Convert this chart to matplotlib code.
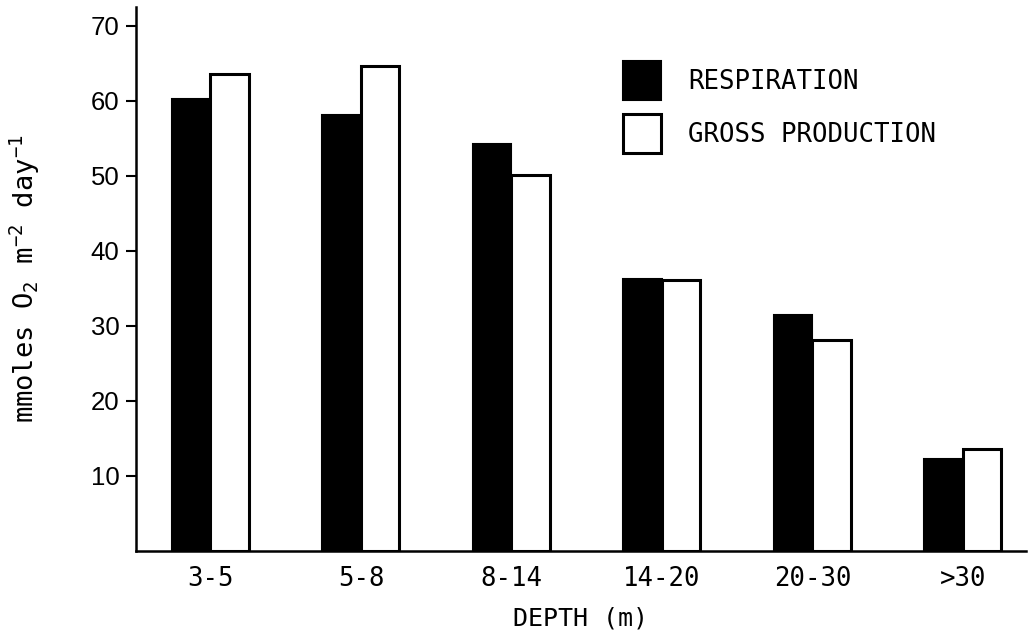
import numpy as np
import matplotlib
matplotlib.use("Agg")
import matplotlib.pyplot as plt
from matplotlib.patches import Patch

# depth classes and oxygen rates (mmoles O2 m-2 day-1)
depths = ['3-5', '5-8', '8-14', '14-20', '20-30', '>30']
respiration = [60.2, 58.1, 54.3, 36.2, 31.5, 12.2]
gross_production = [63.6, 64.6, 50.1, 36.1, 28.1, 13.6]

plt.rcParams['mathtext.default'] = 'regular'
mono = 'DejaVu Sans Mono'

fig = plt.figure(figsize=(10.31, 6.39), dpi=100)
ax = fig.add_axes([0.1319, 0.1377, 0.8632, 0.8513])

x = np.arange(len(depths))
w = 0.256
ax.bar(x - w / 2, respiration, width=w, color='black', edgecolor='black', linewidth=1.5)
ax.bar(x + w / 2, gross_production, width=w, color='white', edgecolor='black', linewidth=2.2)

ax.set_xlim(-0.495, 5.419)
ax.set_ylim(0, 72.5)
ax.set_yticks(range(10, 71, 10))
ax.set_xticks(x)
ax.set_xticklabels(depths, fontfamily=mono, fontsize=18.5)
for lab in ax.get_yticklabels():
    lab.set_fontfamily('Liberation Sans')
    lab.set_fontsize(18.5)

ax.tick_params(axis='x', length=0, pad=11)
ax.tick_params(axis='y', length=7, width=1.5, pad=5)
for s in ['top', 'right']:
    ax.spines[s].set_visible(False)
for s in ['left', 'bottom']:
    ax.spines[s].set_linewidth(1.8)

ax.set_xlabel('DEPTH (m)', fontfamily=mono, fontsize=18, labelpad=10)
ax.set_ylabel('mmoles O$_2$ m$^{-2}$ day$^{-1}$', fontfamily=mono, fontsize=19.5, labelpad=35)

handles = [Patch(facecolor='black', edgecolor='black', linewidth=1.5, label='RESPIRATION'),
           Patch(facecolor='white', edgecolor='black', linewidth=2.2, label='GROSS PRODUCTION')]
leg = ax.legend(handles=handles, loc='upper left', bbox_to_anchor=(0.547, 0.9),
                frameon=False, prop={'family': mono, 'size': 18.5},
                handlelength=1.5, handleheight=1.95, labelspacing=0.55,
                handletextpad=1.05, borderpad=0, borderaxespad=0)

fig.savefig('out.png', dpi=100)
